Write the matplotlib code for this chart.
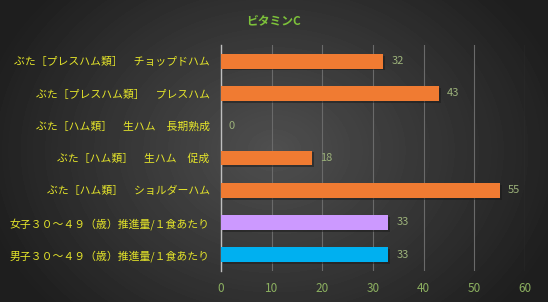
import numpy as np
import matplotlib.pyplot as plt

plt.rcParams['font.family'] = ['Noto Sans CJK JP', 'DejaVu Sans']

# data (top to bottom as shown)
labels = ['ぶた［プレスハム類］　チョップドハム',
          'ぶた［プレスハム類］　プレスハム',
          'ぶた［ハム類］　生ハム　長期熟成',
          'ぶた［ハム類］　生ハム　促成',
          'ぶた［ハム類］　ショルダーハム',
          '女子３０～４９（歳）推進量/１食あたり',
          '男子３０～４９（歳）推進量/１食あたり']
values = [32, 43, 0, 18, 55, 33, 33]
colors = ['#f07b32', '#f07b32', '#f07b32', '#f07b32', '#f07b32', '#cc99ff', '#00b0f0']
ticks = [0, 10, 20, 30, 40, 50, 60]

fig = plt.figure(figsize=(5.48, 3.02), dpi=100)

# radial-ish gradient background
bg = fig.add_axes([0, 0, 1, 1], zorder=-10)
yy, xx = np.mgrid[0:302, 0:548]
r = np.sqrt(((xx - 274) / 330.0) ** 2 + ((yy - 150) / 260.0) ** 2)
shade = np.clip(0.31 - 0.21 * r, 0.12, 0.31)
bg.imshow(shade, cmap='gray', vmin=0, vmax=1, aspect='auto', extent=[0, 1, 0, 1])
bg.axis('off')

ax = fig.add_axes([0.403, 0.103, 0.555, 0.748])
ax.patch.set_alpha(0)
y = np.arange(len(labels))[::-1]

# shadows
ax.barh(y - 0.06, values, left=0.4, height=0.46, color='#1a1a1a', alpha=0.5, zorder=2)
ax.barh(y, values, height=0.46, color=colors, zorder=3)

for yi, v in zip(y, values):
    ax.text(v + 1.6, yi, str(v), va='center', ha='left', fontsize=8, color='#9cb27a')

ax.set_xlim(0, 60)
ax.set_ylim(-0.5, 6.5)
ax.set_xticks(ticks)
ax.set_xticklabels([str(t) for t in ticks], color='#8cb060', fontsize=8.5)
ax.set_yticks(y)
ax.set_yticklabels(labels, color='#e6e62a', fontsize=7.8)
ax.tick_params(length=0, pad=8)
ax.tick_params(axis='x', pad=8)
ax.xaxis.grid(True, color='#6a6a6a', linewidth=0.8)
ax.set_axisbelow(True)
for s in ['top', 'right', 'bottom']:
    ax.spines[s].set_visible(False)
ax.spines['left'].set_color('#bfbfbf')
ax.spines['left'].set_linewidth(1)

fig.text(0.5, 0.93, 'ビタミンC', ha='center', va='center', fontsize=8.5,
         color='#7dc23a', fontweight='bold')

fig.savefig('out.png', dpi=100)
